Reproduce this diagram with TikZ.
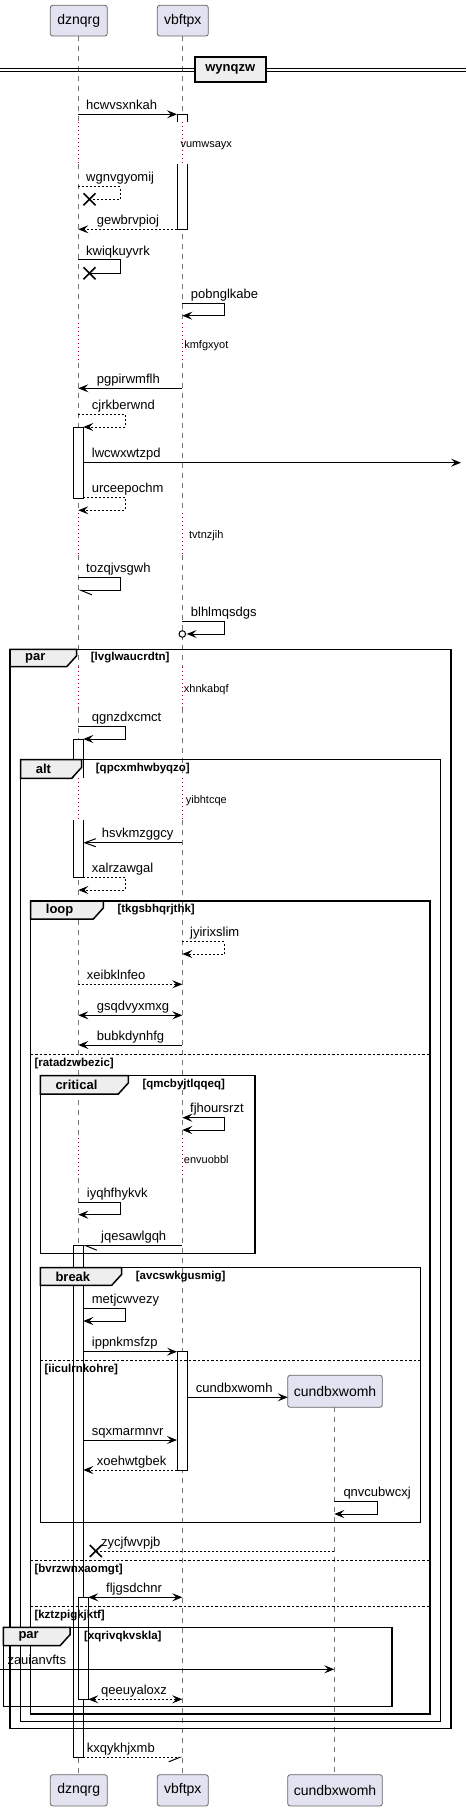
\documentclass[tikz,border=0pt]{standalone}
\usepackage{fontspec}
\setmainfont{Liberation Sans}
\usetikzlibrary{arrows.meta}
\definecolor{partfill}{HTML}{E2E2F0}
\definecolor{tabfill}{HTML}{EEEEEE}
\definecolor{delaycol}{HTML}{A80036}
\newcommand\hmsg[6]{\draw[msg,#1] (#3,#2) -- (#4,#2); \node[lbl,anchor=base west] (l-#6) at (#5,{#2-5}) {#6};}
\newcommand\smsg[8]{\draw[msg,#1] (#2,#4) -- (#3,#4) -- (#3,#5) -- (#6,#5); \node[lbl,anchor=base west] (l-#8) at (#7,{#4-5}) {#8};}
\newcommand\xmark[2]{\draw[line width=1.6pt] ({#1-6},{#2-6}) -- ({#1+6},{#2+6}) ({#1-6},{#2+6}) -- ({#1+6},{#2-6});}
\newcommand\grp[8]{%
 \draw[frm] (#1,#2) rectangle (#3,#4);
 \draw[frm,fill=tabfill] (#1,#2) -- (#5,#2) -- (#5,{#6-11}) -- ({#5-10},#6) -- (#1,#6) -- cycle;
 \node[kwf,anchor=west] (k-#7-#8) at ({#1+15},{(#2+#6)/2}) {#7};
 \node[cdf,anchor=west] (c-#8) at ({#5+14},{(#2+#6)/2}) {#8};}
\newcommand\elsesep[5]{\draw[sep] (#1,#3) -- (#2,#3); \node[cdf,anchor=west] (e-#5) at (#4,{#3+9}) {#5};}
\newcommand\dlay[2]{\node[dlf] (d-#2) at (206.3,#1) {#2};}
\newcommand\abar[4]{\draw[bar] (#1,#3) rectangle (#2,#4);}
\begin{document}
\begin{tikzpicture}[x=1pt,y=-1pt,
 lbl/.style={inner sep=0pt,font=\fontsize{13}{15}\selectfont},
 dlf/.style={inner sep=0pt,font=\fontsize{11}{13}\selectfont},
 kwf/.style={inner sep=0pt,font=\fontsize{13}{15}\selectfont\bfseries},
 cdf/.style={inner sep=0pt,font=\fontsize{11.5}{13}\selectfont\bfseries},
 msg/.style={line width=1pt,draw=black},
 dsh/.style={dash pattern=on 2pt off 2pt},
 aS/.style={-{Stealth[length=10pt,width=8pt,inset=4pt]}},
 aSS/.style={{Stealth[length=10pt,width=8pt,inset=4pt]}-{Stealth[length=10pt,width=8pt,inset=4pt]}},
 aO/.style={-{Straight Barb[length=11pt,width=8pt]}},
 aHL/.style={-{Straight Barb[left,length=11pt,width=9pt]}},
 aHR/.style={-{Straight Barb[right,length=11pt,width=9pt]}},
 life/.style={draw=black!55,line width=0.8pt,dash pattern=on 5pt off 5pt},
 dly/.style={draw=delaycol,line width=1pt,dash pattern=on 1pt off 3pt},
 frm/.style={draw=black,line width=1.5pt},
 sep/.style={draw=black,line width=0.9pt,dash pattern=on 2.5pt off 2pt},
 bar/.style={draw=black,fill=white,line width=0.9pt},
 part/.style={draw=black!60,fill=partfill,line width=0.8pt,rounded corners=2.5pt,inner sep=0pt,font=\fontsize{14}{16}\selectfont}]
\useasboundingbox (0,0) rectangle (466,1811);
\fill[white] (0,0) rectangle (466,1811);
% lifelines
\foreach \xx in {78.3,182.3}{
 \foreach \a/\b in {36/122.3,164/323.3,363.3/513,555/666.7,708.3/778.3,820/1138.3,1178.3/1774.7}
  \draw[life] (\xx,\a) -- (\xx,\b);
 \foreach \a/\b in {122.3/164,323.3/363.3,513/555,666.7/708.3,778.3/820,1138.3/1178.3}
  \draw[dly] (\xx,\a) -- (\xx,\b);
}
\draw[life] (334.3,1407.3) -- (334.3,1774.7);
% participants
\node[part,minimum width=57pt,minimum height=30.7pt] (dzt) at (78.8,20.7) {dznqrg};
\node[part,minimum width=51pt,minimum height=30.7pt] (vbt) at (182.8,20.7) {vbftpx};
\node[part,minimum width=57pt,minimum height=31.3pt] (dzb) at (78.8,1790.3) {dznqrg};
\node[part,minimum width=51pt,minimum height=31.3pt] (vbb) at (182.8,1790.3) {vbftpx};
\node[part,minimum width=94.6pt,minimum height=32pt] (cut) at (335,1391.3) {cundbxwomh};
\node[part,minimum width=94.6pt,minimum height=31.3pt] (cub) at (335,1790.3) {cundbxwomh};
% divider
\draw[line width=1pt] (0,68.3) -- (466,68.3) (0,71.3) -- (466,71.3);
\node[draw=black,line width=1.8pt,fill=tabfill,minimum width=70.7pt,minimum height=24.4pt,inner sep=0pt,font=\fontsize{13}{15}\selectfont\bfseries] (div) at (230.3,69.5) {wynqzw};
% activation bars
\fill[white] (177,114.3) rectangle (187.7,122.3);
\draw[line width=0.9pt] (177,122.3) -- (177,114.3) -- (187.7,114.3) -- (187.7,122.3);
\fill[white] (177,164) rectangle (187.7,229.3);
\draw[line width=0.9pt] (177,164) -- (177,229.3) -- (187.7,229.3) -- (187.7,164);
\abar{73.3}{83.3}{427}{498.3}
\fill[white] (73.3,739) rectangle (83.3,778.3);
\draw[line width=0.9pt] (73.3,778.3) -- (73.3,739) -- (83.3,739) -- (83.3,778.3);
\fill[white] (73.3,820) rectangle (83.3,877.7);
\draw[line width=0.9pt] (73.3,820) -- (73.3,877.7) -- (83.3,877.7) -- (83.3,820);
\abar{177}{187.7}{1351.7}{1470}
\abar{73.3}{83.3}{1245.7}{1757.3}
\abar{78.3}{88.3}{1597.3}{1699.3}
% frames
\grp{10}{649.3}{451}{1728.7}{76.7}{666.7}{par}{[lvglwaucrdtn]}
\grp{20.7}{759.7}{440.7}{1721.3}{81.7}{778.3}{alt}{[qpcxmhwbyqzo]}
\grp{30.7}{901}{430}{1714}{103.3}{919}{loop}{[tkgsbhqrjthk]}
\grp{40.3}{1075.7}{255}{1253.3}{128.3}{1094}{critical}{[qmcbyjtlqqeq]}
\grp{40.3}{1267.7}{420.7}{1522.7}{121.7}{1285.3}{break}{[avcswkgusmig]}
\grp{3.3}{1627.3}{392}{1706.7}{70}{1645.7}{par}{[xqrivqkvskla]}
\elsesep{30.7}{430}{1054.3}{34.3}{[ratadzwbezic]}
\elsesep{40.3}{420.7}{1360.3}{44.3}{[iiculrnkohre]}
\elsesep{30.7}{430}{1560.7}{34.3}{[bvrzwnxaomgt]}
\elsesep{30.7}{430}{1606.7}{34.3}{[kztzpigkjktf]}
% delays
\dlay{145.7}{vumwsayx}
\dlay{346}{kmfgxyot}
\dlay{535.3}{tvtnzjih}
\dlay{689.3}{xhnkabqf}
\dlay{800.7}{yibhtcqe}
\dlay{1159.3}{envuobbl}
% messages
\hmsg{aS}{114.3}{78.3}{177}{86}{hcwvsxnkah}
\smsg{dsh}{78.3}{120.3}{186.7}{199.3}{89.5}{86}{wgnvgyomij}
\xmark{89.5}{199.3}
\hmsg{aS,dsh}{229.3}{177}{78.3}{96.7}{gewbrvpioj}
\smsg{}{78.3}{120.3}{260}{273.3}{89.5}{86}{kwiqkuyvrk}
\xmark{89.5}{273.3}
\smsg{aS}{182.3}{224.3}{303.7}{315.7}{182.3}{190.7}{pobnglkabe}
\hmsg{aS}{388.3}{182.3}{78.3}{96.7}{pgpirwmflh}
\smsg{aS,dsh}{78.3}{125.3}{414.3}{427}{83.3}{91.7}{cjrkberwnd}
\hmsg{aS}{462.7}{83.3}{461}{91.7}{lwcwxwtzpd}
\smsg{aS,dsh}{83.3}{125.3}{497.3}{510.3}{78.3}{91.7}{urceepochm}
\smsg{aHL}{78.3}{120.3}{577.3}{590.3}{78.3}{86}{tozqjvsgwh}
\smsg{aS}{182.3}{224.3}{621.3}{634}{186.7}{190.7}{blhlmqsdgs}
\draw[line width=1pt,fill=white] (182.3,634) circle (3.3);
\smsg{aS}{78.3}{125.3}{726.7}{739}{83.3}{91.7}{qgnzdxcmct}
\hmsg{aO}{842.7}{182.3}{83.3}{101.7}{hsvkmzggcy}
\smsg{aS,dsh}{83.3}{125.3}{877.3}{890}{78.3}{91.7}{xalrzawgal}
\smsg{aS,dsh}{182.3}{224.3}{941.7}{954}{182.3}{190}{jyirixslim}
\hmsg{aS,dsh}{984.3}{78.3}{182.3}{86.7}{xeibklnfeo}
\hmsg{aSS}{1015.3}{78.3}{182.3}{96.7}{gsqdvyxmxg}
\hmsg{aS}{1045}{182.3}{78.3}{96.7}{bubkdynhfg}
\smsg{aSS}{182.3}{224.3}{1117.7}{1130}{182.3}{190}{fjhoursrzt}
\smsg{aS}{78.3}{120.3}{1202.7}{1214.7}{78.3}{86.7}{iyqhfhykvk}
\hmsg{aHL}{1245.7}{182.3}{83.3}{101}{jqesawlgqh}
\smsg{aS}{83.3}{125.3}{1308.3}{1321}{83.3}{91.7}{metjcwvezy}
\hmsg{aS}{1351.7}{83.3}{177}{91.7}{ippnkmsfzp}
\hmsg{aS}{1397.3}{187.7}{287.7}{195.7}{cundbxwomh}
\hmsg{aS}{1440}{83.3}{177}{91.7}{sqxmarmnvr}
\hmsg{aS,dsh}{1470}{177}{83.3}{96.7}{xoehwtgbek}
\smsg{aS}{334.3}{377.7}{1501.7}{1514}{334.3}{343.3}{qnvcubwcxj}
\hmsg{dsh}{1551}{334.3}{95.8}{101}{zycjfwvpjb}
\xmark{95.8}{1551}
\hmsg{aSS}{1597.3}{88.3}{182.3}{106}{fljgsdchnr}
\hmsg{aS}{1669.3}{0}{334.3}{7.3}{zauianvfts}
\hmsg{aSS,dsh}{1699.3}{88.3}{182.3}{101}{qeeuyaloxz}
\hmsg{aHR,dsh}{1757.3}{83.3}{182.3}{86.7}{kxqykhjxmb}
\end{tikzpicture}
\end{document}
